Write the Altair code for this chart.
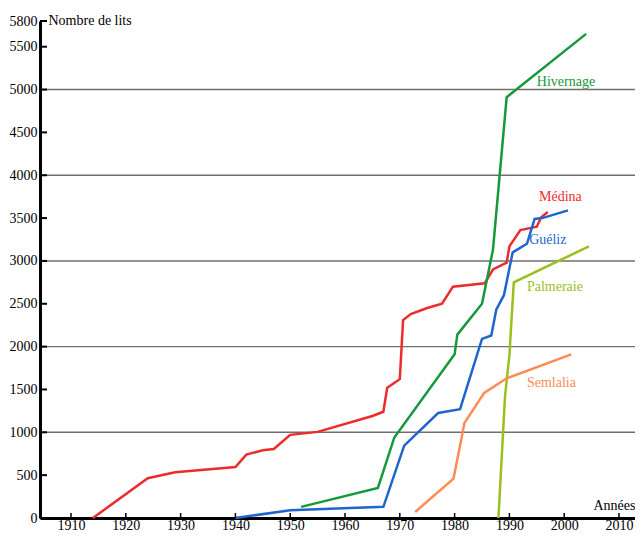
import altair as alt
import pandas as pd

# ---- data ----
medina_year = [1914, 1924, 1929, 1940, 1942, 1945, 1947, 1950, 1955, 1965, 1967, 1967.7,
               1970, 1970.6, 1972, 1975, 1977.7, 1979.7, 1985.5, 1987, 1989.5, 1990,
               1992, 1995, 1995.8, 1997]
medina_val = [0, 465, 535, 595, 740, 790, 805, 970, 1005, 1190, 1240, 1520,
              1620, 2310, 2380, 2450, 2500, 2700, 2740, 2900, 2980, 3170,
              3360, 3400, 3510, 3570]

gueliz_year = [1940, 1950, 1967, 1970.8, 1977, 1981, 1985, 1986.7, 1987.6, 1989,
               1990.6, 1993.2, 1994.6, 1996, 2000.7]
gueliz_val = [0, 90, 130, 845, 1225, 1270, 2090, 2130, 2430, 2600,
              3100, 3200, 3490, 3500, 3590]

hivernage_year = [1952, 1966, 1969, 1980, 1980.5, 1985, 1987, 1989.5, 2004]
hivernage_val = [130, 350, 940, 1910, 2140, 2500, 3130, 4910, 5650]

palmeraie_year = [1988, 1989.2, 1990, 1990.8, 2004.5]
palmeraie_val = [0, 1420, 1900, 2750, 3170]

semlalia_year = [1972.8, 1979.8, 1981, 1981.8, 1985.4, 1989.5, 2001.3]
semlalia_val = [70, 460, 845, 1110, 1460, 1630, 1910]

series_names = ["Médina", "Guéliz", "Hivernage", "Palmeraie", "Semlalia"]
series_colors = ["#ee2b2b", "#1f66cc", "#16993a", "#99c01c", "#ff8a55"]

label_year = [1995.4, 1993.6, 1995.0, 1993.2, 1993.2]
label_val = [3750, 3240, 5090, 2700, 1575]

y_tick_values = [0, 500, 1000, 1500, 2000, 2500, 3000, 3500, 4000, 4500, 5000, 5500, 5800]
grid_values = [1000, 2000, 3000, 4000, 5000]
x_tick_values = [1910, 1920, 1930, 1940, 1950, 1960, 1970, 1980, 1990, 2000, 2010]

# ---- tables ----
rows = []
for name, ys, vs in zip(series_names,
                        [medina_year, gueliz_year, hivernage_year, palmeraie_year, semlalia_year],
                        [medina_val, gueliz_val, hivernage_val, palmeraie_val, semlalia_val]):
    for i, (yy, vv) in enumerate(zip(ys, vs)):
        rows.append({"series": name, "year": yy, "value": vv, "order": i})
df = pd.DataFrame(rows)
labels_df = pd.DataFrame({"series": series_names, "year": label_year, "value": label_val})
ytick_df = pd.DataFrame({"value": y_tick_values})
grid_df = pd.DataFrame({"value": grid_values})
xtick_df = pd.DataFrame({"year": x_tick_values})

FONT = "'Liberation Serif', 'Times New Roman', Times, serif"
W, H = 595, 497

xscale = alt.Scale(domain=[1904.34, 2012.92], nice=False, zero=False)
yscale = alt.Scale(domain=[0, 5800], nice=False, zero=True)

xaxis = alt.Axis(values=x_tick_values, format="d", ticks=False, grid=False,
                 domainColor="black", domainWidth=3, labelFont=FONT, labelFontSize=14,
                 labelColor="black", labelPadding=0, labelFlush=False,
                 title="Années", titleFont=FONT, titleFontSize=14, titleFontWeight="normal",
                 titleColor="black", titleX=W, titleY=-13, titleAlign="right",
                 titleBaseline="middle")
yaxis = alt.Axis(values=y_tick_values, format="d", ticks=False, grid=False,
                 domainColor="black", domainWidth=3, labelFont=FONT, labelFontSize=14,
                 labelColor="black", labelPadding=3, labelFlush=False,
                 title="Nombre de lits", titleFont=FONT, titleFontSize=14,
                 titleFontWeight="normal", titleColor="black", titleAngle=0,
                 titleX=8, titleY=-1, titleAlign="left", titleBaseline="middle")

X = alt.X("year:Q", scale=xscale, axis=xaxis)
Y = alt.Y("value:Q", scale=yscale, axis=yaxis)
color = alt.Color("series:N", scale=alt.Scale(domain=series_names, range=series_colors),
                  legend=None)

grid = alt.Chart(grid_df).mark_rule(color="#6f6f6f", strokeWidth=1.4).encode(y=Y)

yticks = alt.Chart(ytick_df).mark_rule(color="black", strokeWidth=2).encode(
    y=Y, x=alt.value(0), x2=alt.value(7))
xticks = alt.Chart(xtick_df).mark_rule(color="black", strokeWidth=1.5).encode(
    x=X, y=alt.value(H), y2=alt.value(H - 5))

lines = alt.Chart(df).mark_line(strokeWidth=2.5).encode(
    x=X, y=Y, color=color, detail="series:N", order="order:Q")

texts = alt.Chart(labels_df).mark_text(font=FONT, fontSize=14, align="left",
                                       baseline="middle").encode(
    x=X, y=Y, text="series:N", color=color)

chart = alt.layer(grid, lines, texts, yticks, xticks).properties(
    width=W, height=H,
    autosize=alt.AutoSizeParams(type="none"),
    padding={"left": 32, "top": 13, "right": 0, "bottom": 15},
    background="white",
).configure_view(stroke=None)

chart.save("out.html", embed_options={"renderer": "svg", "actions": False})
